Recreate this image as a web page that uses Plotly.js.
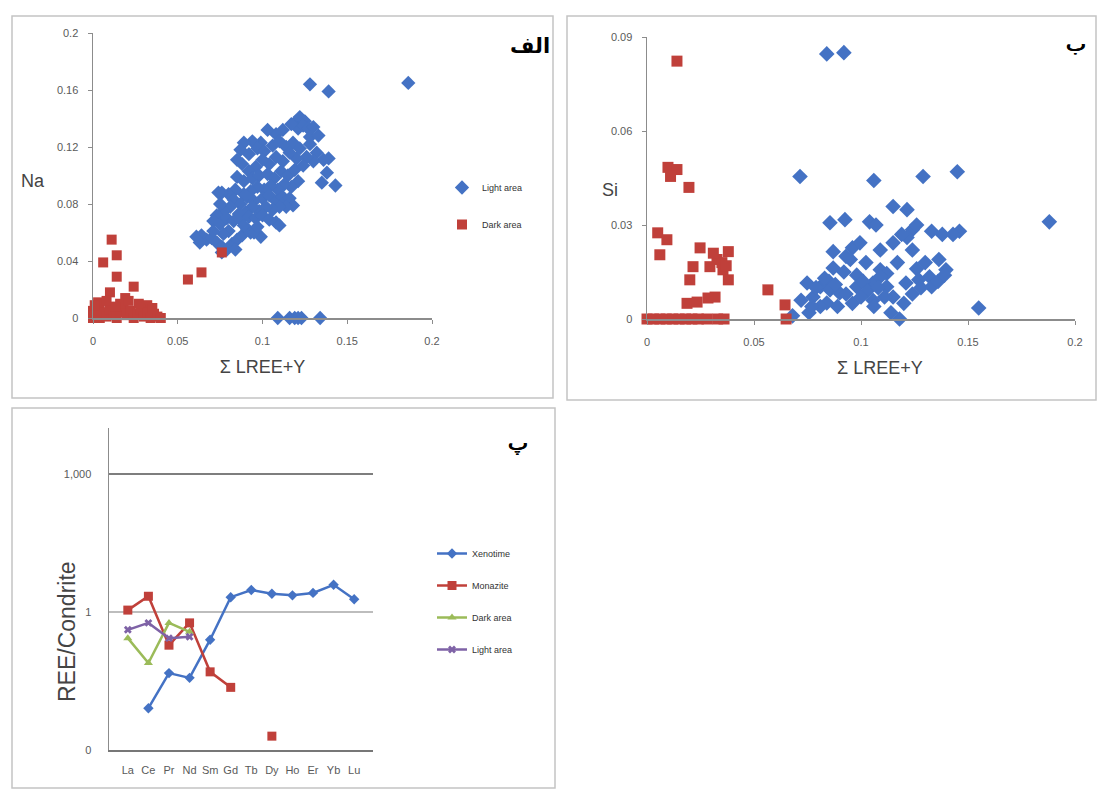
<!DOCTYPE html>
<html>
<head>
<meta charset="utf-8">
<script src="https://cdn.plot.ly/plotly-3.0.1.min.js"></script>
<style>html,body{margin:0;padding:0;background:#fff;}#chart{width:1097px;height:789px;}</style>
</head>
<body>
<div id="chart"></div>
<script>
// ---------- Panel الف : Na vs Σ LREE+Y ----------
const naLightX = [0.128,0.139,0.186,0.109,0.116,0.119,0.121,0.123,0.134,
 0.119,0.122,0.125,0.121,0.124,0.127,0.117,0.130,0.128,0.133,0.112,0.108,0.103,0.099,0.094,0.089,0.087,0.092,0.097,0.101,0.106,0.110,0.114,0.118,0.122,0.128,0.132,0.136,0.139,0.138,0.135,0.143,0.130,0.126,0.120,0.116,0.112,0.108,0.104,0.100,0.096,0.092,0.088,0.085,0.085,0.089,0.094,0.098,0.103,0.107,0.111,0.115,0.119,0.124,0.121,0.117,0.113,0.109,0.105,0.101,0.097,0.093,0.089,0.084,0.080,0.076,0.083,0.087,0.091,0.095,0.100,0.104,0.108,0.112,0.116,0.118,0.114,0.110,0.106,0.102,0.098,0.094,0.090,0.086,0.081,0.077,0.073,0.071,0.075,0.079,0.083,0.087,0.092,0.096,0.100,0.104,0.108,0.110,0.093,0.099,
 0.061,0.064,0.067,0.063,0.070,0.073,0.076,0.079,0.082,0.085,0.088,0.084,0.076,0.080,0.077,0.091,0.095,0.097,0.089,0.074,0.071,0.075];
const naLightY = [0.164,0.159,0.165,0,0,0,0,0,0,
 0.137,0.141,0.138,0.133,0.135,0.133,0.136,0.134,0.127,0.128,0.132,0.129,0.132,0.123,0.124,0.123,0.118,0.115,0.119,0.117,0.121,0.124,0.120,0.123,0.119,0.122,0.116,0.111,0.112,0.102,0.095,0.093,0.110,0.113,0.112,0.116,0.110,0.113,0.108,0.111,0.106,0.103,0.108,0.111,0.099,0.096,0.098,0.100,0.101,0.098,0.103,0.100,0.104,0.107,0.096,0.092,0.094,0.090,0.093,0.090,0.092,0.089,0.087,0.090,0.087,0.088,0.083,0.080,0.085,0.082,0.084,0.086,0.082,0.085,0.084,0.079,0.078,0.078,0.076,0.078,0.075,0.078,0.074,0.073,0.078,0.075,0.072,0.068,0.066,0.070,0.068,0.069,0.071,0.070,0.072,0.069,0.067,0.065,0.060,0.057,
 0.057,0.058,0.055,0.053,0.056,0.053,0.050,0.048,0.052,0.055,0.058,0.048,0.046,0.061,0.059,0.062,0.060,0.064,0.065,0.088,0.061,0.080];
const naDarkX = [0.011,0.014,0.006,0.014,0.010,0.024,0.019,0.032,0.004,0.056,0.064,0.076,
 0.000,0.002,0.004,0.006,0.008,0.010,0.012,0.014,0.016,0.018,0.020,0.022,0.024,0.026,0.028,0.030,0.032,0.034,0.036,0.038,0.040,0.003,0.008,0.016,0.021,0.027,0.035,0.000,0.001,0.013];
const naDarkY = [0.055,0.044,0.039,0.029,0.018,0.022,0.014,0.009,0.008,0.027,0.032,0.046,
 0.005,0.002,0.000,0.004,0.001,0.006,0.002,0.000,0.004,0.008,0.002,0.005,0.000,0.003,0.006,0.001,0.004,0.000,0.003,0.001,0.000,0.011,0.012,0.010,0.012,0.010,0.007,0.000,0.009,0.008];

// ---------- Panel ب : Si vs Σ LREE+Y ----------
const siLightX = [0.084,0.092,0.0715,0.106,0.129,0.145,0.188,
 0.0855,0.0925,0.104,0.107,0.115,0.1215,0.124,0.1215,0.126,0.119,0.146,0.143,0.133,0.138,
 0.087,0.096,0.0995,0.109,0.115,0.124,0.093,
 0.095,0.087,0.1023,0.109,0.1364,0.1397,0.130,0.126,0.117,0.112,0.098,0.092,0.085,
 0.0748,0.081,0.0855,0.0776,0.084,0.090,0.098,0.1056,0.109,0.112,0.115,0.1056,0.096,0.121,0.127,0.132,0.133,0.118,0.068,0.0757,0.081,0.155,
 0.079,0.083,0.088,0.101,0.103,0.108,0.111,0.106,0.100,0.093,0.089,0.077,0.072,0.124,0.128,0.136,0.139,0.120,0.114];
const siLightY = [0.0846,0.085,0.0455,0.0442,0.0455,0.047,0.031,
 0.0307,0.0317,0.031,0.030,0.0359,0.0349,0.0285,0.026,0.030,0.027,0.028,0.027,0.028,0.027,
 0.0215,0.0227,0.0243,0.022,0.0243,0.022,0.020,
 0.019,0.0163,0.018,0.0157,0.019,0.0157,0.018,0.016,0.018,0.0145,0.014,0.015,0.012,
 0.0115,0.0103,0.0093,0.007,0.0051,0.0083,0.0103,0.0115,0.0135,0.0103,0.007,0.006,0.005,0.0115,0.0125,0.0135,0.0103,0.000,0.001,0.002,0.004,0.0035,
 0.010,0.013,0.011,0.012,0.009,0.010,0.007,0.004,0.007,0.008,0.004,0.004,0.006,0.008,0.010,0.012,0.014,0.005,0.002];
const siDarkX = [0.014,0.0098,0.014,0.011,0.0196,0.005,0.0093,0.006,0.0248,0.038,0.0327,0.0294,0.0355,0.0215,0.038,0.0200,0.0318,0.0187,0.0234,0.0285,0.0565,0.0645,0.035,0.031,0.037,
 0.000,0.003,0.006,0.009,0.012,0.015,0.018,0.021,0.024,0.028,0.033,0.036,0.065];
const siDarkY = [0.0823,0.0484,0.0477,0.0455,0.042,0.0275,0.0253,0.0205,0.0227,0.0215,0.019,0.0167,0.0157,0.0167,0.0125,0.0125,0.007,0.005,0.0054,0.0067,0.0093,0.0045,0.018,0.021,0.017,
 0,0,0,0,0,0,0,0,0,0,0,0,0];

// ---------- Panel پ : REE / Condrite ----------
const ree = ['La','Ce','Pr','Nd','Sm','Gd','Tb','Dy','Ho','Er','Yb','Lu'];
const xenotime = [null,0.0081,0.047,0.037,0.25,2.1,3.0,2.5,2.3,2.6,3.9,1.9];
const monazite = [1.1,2.2,0.19,0.58,0.05,0.023,null,0.002,null,null,null,null];
const darkArea = [0.27,0.078,0.58,0.37,null,null,null,null,null,null,null,null];
const lightArea = [0.41,0.58,0.27,0.29,null,null,null,null,null,null,null,null];

const BLUE = '#4472c4', RED = '#c0403a', GREEN = '#9bbb59', PURPLE = '#7e62a6';
const FONT = 'Liberation Sans, Arial, sans-serif';
const W = 1097, H = 789;
const px = v => v / W, py = v => 1 - v / H;

const traces = [
  {type:'scatter', mode:'markers', name:'Light area', x:naLightX, y:naLightY, xaxis:'x', yaxis:'y',
   marker:{symbol:'diamond', size:11, color:BLUE}, cliponaxis:false, legend:'legend', legendgroup:'a'},
  {type:'scatter', mode:'markers', name:'Dark area', x:naDarkX, y:naDarkY, xaxis:'x', yaxis:'y',
   marker:{symbol:'square', size:10, color:RED}, cliponaxis:false, legend:'legend', legendgroup:'b'},
  {type:'scatter', mode:'markers', name:'Light area', x:siLightX, y:siLightY, xaxis:'x2', yaxis:'y2',
   marker:{symbol:'diamond', size:12, color:BLUE}, cliponaxis:false, showlegend:false},
  {type:'scatter', mode:'markers', name:'Dark area', x:siDarkX, y:siDarkY, xaxis:'x2', yaxis:'y2',
   marker:{symbol:'square', size:11, color:RED}, cliponaxis:false, showlegend:false},
  {type:'scatter', mode:'lines+markers', name:'Xenotime', x:ree, y:xenotime, xaxis:'x3', yaxis:'y3',
   line:{color:BLUE, width:2.5}, marker:{symbol:'diamond', size:8, color:BLUE}, cliponaxis:false, legend:'legend2', legendgroup:'c'},
  {type:'scatter', mode:'lines+markers', name:'Monazite', x:ree, y:monazite, xaxis:'x3', yaxis:'y3',
   line:{color:RED, width:2.5}, marker:{symbol:'square', size:9, color:RED}, cliponaxis:false, legend:'legend2', legendgroup:'d'},
  {type:'scatter', mode:'lines+markers', name:'Dark area', x:ree, y:darkArea, xaxis:'x3', yaxis:'y3',
   line:{color:GREEN, width:2.5}, marker:{symbol:'triangle-up', size:8, color:GREEN}, cliponaxis:false, legend:'legend2', legendgroup:'e'},
  {type:'scatter', mode:'lines+markers', name:'Light area', x:ree, y:lightArea, xaxis:'x3', yaxis:'y3',
   line:{color:PURPLE, width:2.5}, marker:{symbol:'x', size:7, color:PURPLE}, cliponaxis:false, legend:'legend2', legendgroup:'f'}
];

const tickFont = {family:FONT, size:11, color:'#5a5a5a'};
const axisBase = {showline:true, linecolor:'#8c8c8c', linewidth:1.5, showgrid:false, zeroline:false,
  ticks:'outside', ticklen:4, tickcolor:'#8c8c8c', tickfont:tickFont, fixedrange:true};
const titleFont = {family:FONT, size:18, color:'#444'};
const faFont = {family:'DejaVu Sans', size:21, color:'#000'};
const faFontHeavy = {family:'DejaVu Sans', size:21, color:'#000', shadow:'0.7px 0px 0px #000, -0.4px 0px 0px #000'};

const layout = {
  width:W, height:H, margin:{l:0,r:0,t:0,b:0},
  paper_bgcolor:'#fff', plot_bgcolor:'rgba(0,0,0,0)',
  font:{family:FONT, color:'#333'},
  xaxis: Object.assign({}, axisBase, {domain:[px(93),px(432)], range:[0,0.2], tickvals:[0,0.05,0.1,0.15,0.2],
    ticktext:['0','0.05','0.1','0.15','0.2'], anchor:'y', ticklabelstandoff:8,
    title:{text:'Σ LREE+Y', font:titleFont, standoff:14}}),
  yaxis: Object.assign({}, axisBase, {domain:[1-318/H, 1-33/H], range:[0,0.2], tickvals:[0,0.04,0.08,0.12,0.16,0.2],
    ticktext:['0','0.04','0.08','0.12','0.16','0.2'], anchor:'x', ticklabelstandoff:7}),
  xaxis2: Object.assign({}, axisBase, {domain:[px(647),px(1075)], range:[0,0.2], tickvals:[0,0.05,0.1,0.15,0.2],
    ticktext:['0','0.05','0.1','0.15','0.2'], anchor:'y2', ticklabelstandoff:8}),
  yaxis2: Object.assign({}, axisBase, {domain:[1-319/H, 1-37/H], range:[0,0.09], tickvals:[0,0.03,0.06,0.09],
    ticktext:['0','0.03','0.06','0.09'], anchor:'x2', ticklabelstandoff:7}),
  xaxis3: Object.assign({}, axisBase, {domain:[px(109),px(373)], type:'category', categoryorder:'array', categoryarray:ree,
    ticks:'', anchor:'y3', ticklabelstandoff:9, linecolor:'#777'}),
  yaxis3: Object.assign({}, axisBase, {domain:[1-750/H, 1-428/H], type:'log', range:[-3,4],
    tickvals:[0.001,1,1000], ticktext:['0','1','1,000'], ticks:'', showgrid:true, gridcolor:'#bdbdbd', gridwidth:1.5,
    anchor:'x3', ticklabelstandoff:14}),
  legend: {x:px(442), y:py(173), xanchor:'left', yanchor:'top', font:{family:FONT, size:9, color:'#333'},
    bgcolor:'rgba(0,0,0,0)', tracegroupgap:18, itemwidth:30},
  legend2: {x:px(432), y:py(539), xanchor:'left', yanchor:'top', font:{family:FONT, size:9, color:'#333'},
    bgcolor:'rgba(0,0,0,0)', tracegroupgap:13, itemwidth:30},
  shapes: [
    {type:'rect', xref:'paper', yref:'paper', x0:px(12), x1:px(553), y0:py(398), y1:py(16), line:{color:'#c4c4c4', width:1.5}},
    {type:'rect', xref:'paper', yref:'paper', x0:px(567), x1:px(1096), y0:py(400), y1:py(16), line:{color:'#c4c4c4', width:1.5}},
    {type:'rect', xref:'paper', yref:'paper', x0:px(12), x1:px(555), y0:py(788), y1:py(408), line:{color:'#c4c4c4', width:1.5}},
    {type:'line', xref:'x3 domain', yref:'y3', x0:0, x1:1, y0:1000, y1:1000, line:{color:'#6a6a6a', width:1.5}}
  ],
  annotations: [
    {text:'Na', xref:'paper', yref:'paper', x:px(33), y:py(181), xanchor:'center', yanchor:'middle', showarrow:false, font:titleFont},
    {text:'Si', xref:'paper', yref:'paper', x:px(610), y:py(190), xanchor:'center', yanchor:'middle', showarrow:false, font:titleFont},
    {text:'Σ LREE+Y', xref:'paper', yref:'paper', x:px(880), y:py(368), xanchor:'center', yanchor:'middle', showarrow:false, font:titleFont},
    {text:'REE/Condrite', xref:'paper', yref:'paper', x:px(67), y:py(632), xanchor:'center', yanchor:'middle', textangle:-90, showarrow:false, font:{family:FONT, size:23, color:'#444'}},
    {text:'<b>الف</b>', xref:'paper', yref:'paper', x:px(530), y:py(46), xanchor:'center', yanchor:'middle', showarrow:false, font:faFont},
    {text:'ب', xref:'paper', yref:'paper', x:px(1076), y:py(44), xanchor:'center', yanchor:'middle', showarrow:false, font:faFontHeavy},
    {text:'پ', xref:'paper', yref:'paper', x:px(518), y:py(443), xanchor:'center', yanchor:'middle', showarrow:false, font:faFontHeavy}
  ]
};

Plotly.newPlot('chart', traces, layout, {displayModeBar:false, staticPlot:true});
</script>
</body>
</html>
